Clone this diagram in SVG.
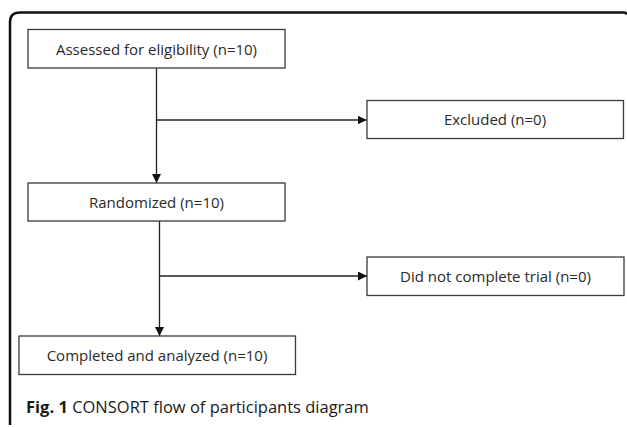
<svg xmlns="http://www.w3.org/2000/svg" width="627" height="427" viewBox="0 0 627 427">
<style>
.box{fill:#fff;stroke:#3a3a3a;stroke-width:1.3}
.t{font-family:"Open Sans","Noto Sans",sans-serif;font-size:15px;fill:#2a2a2a;text-anchor:middle}
.c{stroke:#222;stroke-width:1.3;fill:none}
.cap{font-family:"Open Sans","Noto Sans",sans-serif;font-size:16.5px;fill:#1a1a1a}
</style>
<defs>
<marker id="ah" viewBox="0 0 10 10" refX="10" refY="5" markerWidth="9" markerHeight="9" markerUnits="userSpaceOnUse" orient="auto">
<path d="M0,0 L10,5 L0,10 z" fill="#111"/>
</marker>
</defs>
<rect width="627" height="427" fill="#fff"/>
<path d="M10,425 L10,22 Q10,12.5 20,12.5 L624,12.5 Q626,12.5 626.5,14.5" fill="none" stroke="#111" stroke-width="2.5"/>
<g id="connectors">
<path class="c" d="M156.5,68 L156.5,183" marker-end="url(#ah)"/>
<path class="c" d="M156.5,120 L366.5,120" marker-end="url(#ah)"/>
<path class="c" d="M159.5,221 L159.5,336" marker-end="url(#ah)"/>
<path class="c" d="M159.5,276 L367,276" marker-end="url(#ah)"/>
</g>
<g id="n1"><rect class="box" x="28" y="29.5" width="257" height="38.5"/><text class="t" x="156.5" y="54.5">Assessed for eligibility (n=10)</text></g>
<g id="n2"><rect class="box" x="367" y="100.5" width="256.5" height="38"/><text class="t" x="495" y="125">Excluded (n=0)</text></g>
<g id="n3"><rect class="box" x="28" y="183" width="257" height="38"/><text class="t" x="156.5" y="207.5">Randomized (n=10)</text></g>
<g id="n4"><rect class="box" x="367" y="257" width="257" height="38.5"/><text class="t" x="495.5" y="281.5">Did not complete trial (n=0)</text></g>
<g id="n5"><rect class="box" x="19" y="336" width="276.5" height="38.5"/><text class="t" x="157" y="360.5">Completed  and analyzed (n=10)</text></g>
<text class="cap" x="26" y="412.5"><tspan font-weight="bold">Fig. 1</tspan> CONSORT flow of participants diagram</text>
</svg>
